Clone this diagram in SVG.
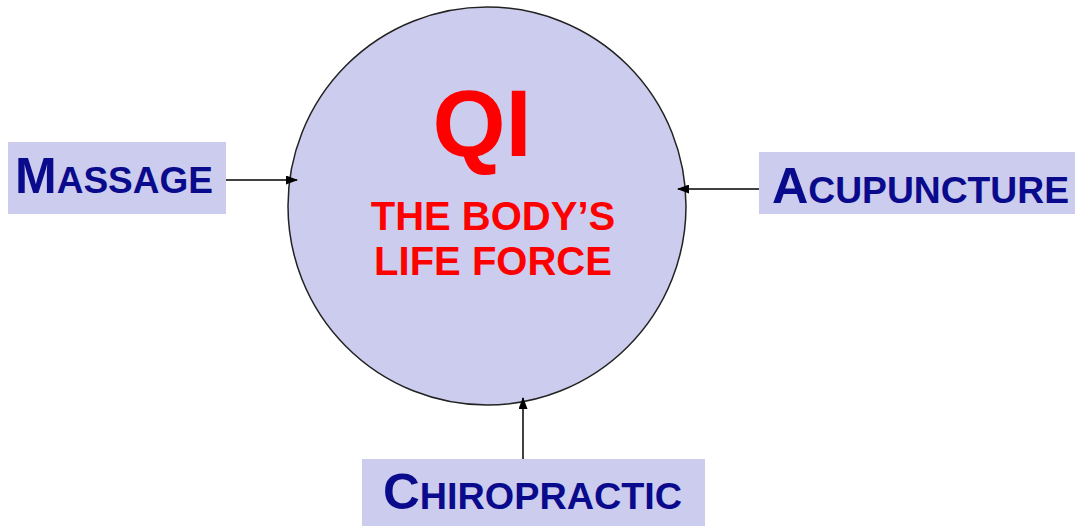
<svg xmlns="http://www.w3.org/2000/svg" width="1078" height="526" viewBox="0 0 1078 526">
<style>
.box{fill:#ccccee;}
.lbl{font-family:"Liberation Sans",Arial,sans-serif;font-weight:bold;fill:#0a0a8c;font-size:37px;}
.big{font-size:50px;}
.red{font-family:"Liberation Sans",Arial,sans-serif;font-weight:bold;fill:#ff0000;text-anchor:middle;}
.conn{stroke:#000;stroke-width:1.5;fill:none;marker-end:url(#ah);}
</style>
<defs>
<marker id="ah" markerWidth="12" markerHeight="9" refX="11" refY="4.5" orient="auto" markerUnits="userSpaceOnUse">
<path d="M0,0 L12,4.5 L0,9 Z" fill="#000"/>
</marker>
</defs>
<rect width="1078" height="526" fill="#fff"/>
<g id="qi">
<circle cx="487" cy="206" r="199" fill="#ccccee" stroke="#222" stroke-width="1.5"/>
<text class="red" x="482" y="156" font-size="94">QI</text>
<text class="red" x="493" y="230" font-size="40">THE BODY’S</text>
<text class="red" x="493" y="275" font-size="40">LIFE FORCE</text>
</g>
<g id="massage">
<rect class="box" x="8" y="142" width="218" height="72"/>
<text class="lbl" x="15" y="193" textLength="198" lengthAdjust="spacingAndGlyphs"><tspan class="big">M</tspan>ASSAGE</text>
</g>
<g id="acupuncture">
<rect class="box" x="759" y="152" width="316" height="62"/>
<text class="lbl" x="772" y="203" textLength="297" lengthAdjust="spacingAndGlyphs"><tspan class="big">A</tspan>CUPUNCTURE</text>
</g>
<g id="chiropractic">
<rect class="box" x="362" y="459" width="343" height="67"/>
<text class="lbl" x="383" y="509" textLength="299" lengthAdjust="spacingAndGlyphs"><tspan class="big">C</tspan>HIROPRACTIC</text>
</g>
<g id="connectors">
<line class="conn" x1="226" y1="180" x2="297" y2="180"/>
<line class="conn" x1="759" y1="189" x2="678" y2="189"/>
<line class="conn" x1="523" y1="459" x2="523" y2="398"/>
</g>
</svg>
